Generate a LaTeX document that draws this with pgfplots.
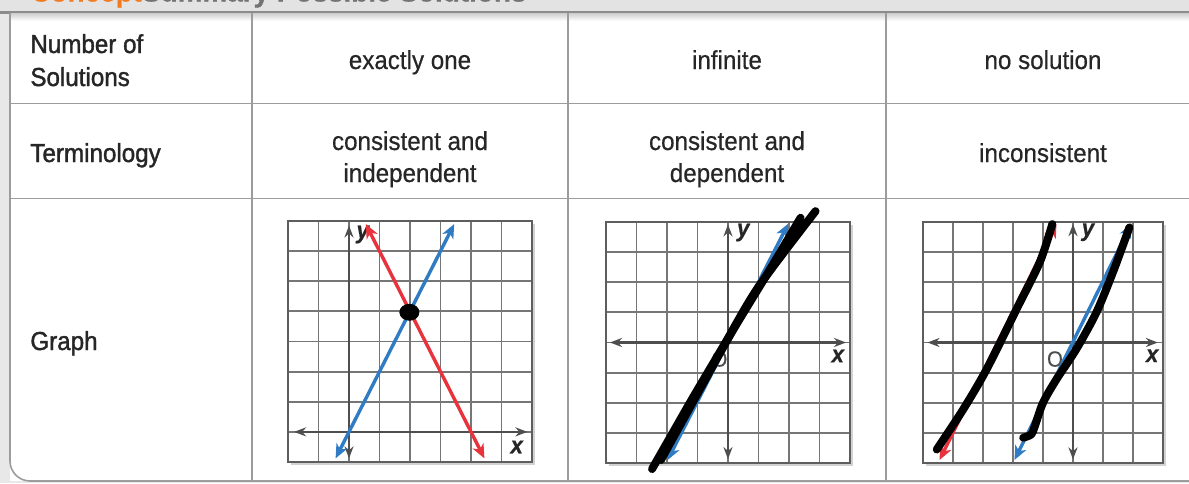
\documentclass[border=0pt]{standalone}
\usepackage{pgfplots}
\pgfplotsset{compat=1.18}
\usepackage{fontspec}
\setmainfont{Liberation Sans}[FakeStretch=0.93, FakeBold=0.5]
\newfontfamily\hdfont{Liberation Sans}[FakeStretch=0.93, FakeBold=1.4]
\usetikzlibrary{arrows.meta,shadows}

\definecolor{txt}{HTML}{262626}
\definecolor{rule}{HTML}{9C9C9C}
\definecolor{gridc}{HTML}{767676}
\definecolor{axc}{HTML}{4E4E4E}
\definecolor{lred}{HTML}{E8323C}
\definecolor{lblue}{HTML}{2F7BC4}
\definecolor{orng}{HTML}{F27A1F}

\newcommand\tf{\fontsize{13}{16}\selectfont}

\pgfplotsset{
  cgrid/.style={scale only axis, width=122pt, height=120.5pt, anchor=north west,
    xtick distance=1, ytick distance=1, grid=major,
    major grid style={draw=gridc, line width=0.95pt},
    axis line style={draw=gridc!80!black, line width=1pt},
    xticklabels={}, yticklabels={}, major tick length=0pt, clip=false,
    axis background/.style={fill=white, drop shadow={shadow xshift=1.6pt,
      shadow yshift=-1.6pt, opacity=0.35}}},
  axln/.style={draw=axc, line width=1.1pt,
    arrows={Stealth[length=6pt,width=4.5pt]-Stealth[length=6pt,width=4.5pt]}},
  rl/.style={draw=lred, line width=1.7pt,
    arrows={Stealth[length=7pt,width=6pt,inset=2pt]-Stealth[length=7pt,width=6pt,inset=2pt]}},
  bl/.style={draw=lblue, line width=1.7pt,
    arrows={Stealth[length=7pt,width=6pt,inset=2pt]-Stealth[length=7pt,width=6pt,inset=2pt]}},
  hs/.style={draw=black, line width=4pt, line cap=round, line join=round, smooth, tension=0.5},
}
\tikzset{lbl/.style={font=\fontsize{12}{13}\selectfont\bfseries\itshape, text=txt, inner sep=0pt}}

\begin{document}
\begin{tikzpicture}[x=0.5pt,y=-0.5pt]
\useasboundingbox (0,0) rectangle (1189,483);
\fill[white] (0,0) rectangle (1189,483);
% page margin outside the table
\fill[black!9] (0,0) rectangle (10,483);
\fill[black!9] (0,481) rectangle (1189,483);
% header bar with the clipped title
\fill[black!11] (0,0) rectangle (1189,12.5);
\node[anchor=base west, inner sep=0pt, font=\fontsize{15}{18}\selectfont\bfseries]
  at (30,1.5) {\textcolor{orng}{Concept}\textcolor{black!55}{Summary Possible Solutions}};
\draw[black!45, line width=1.1pt] (0,12.5) -- (1189,12.5);
% table rules
\fill[white, rounded corners=10] (10,13.6) -- (10,481) -- (1189,481) -- (1189,13.6) -- cycle;
\shade[top color=black!18, bottom color=white] (10.5,13.6) rectangle (1189,21);
\draw[rule, line width=0.8pt, rounded corners=10] (10,13) -- (10,481) -- (1189,481);
\draw[rule, line width=0.8pt] (10,103.5) -- (1189,103.5);
\draw[rule, line width=0.8pt] (10,198.5) -- (1189,198.5);
\draw[rule, line width=0.8pt] (252,13) -- (252,481);
\draw[rule, line width=0.8pt] (568,13) -- (568,481);
\draw[rule, line width=0.8pt] (886,13) -- (886,481);

% row headers
\begin{scope}[every node/.style={anchor=base west, inner sep=0pt, text=txt, font=\hdfont\tf}]
\node at (30,53) {Number of};
\node at (30,86) {Solutions};
\node at (30,162) {Terminology};
\node at (30,350) {Graph};
\end{scope}
% cell texts (two-line nodes: base anchor is the last line)
\begin{scope}[every node/.style={anchor=base, inner sep=0pt, text=txt, font=\tf, align=center}]
\node at (410,69) {exactly one};
\node at (727,69) {infinite};
\node at (1043,69) {no solution};
\node at (410,182) {consistent and\\independent};
\node at (727,182) {consistent and\\dependent};
\node at (1043,162) {inconsistent};
\end{scope}

% graph 1: exactly one
\begin{axis}[cgrid, at={(144pt,-110.5pt)}, xmin=-2, xmax=6, ymin=-1, ymax=7]
\addplot[axln] coordinates {(-1.8,0) (5.85,0)};
\addplot[axln] coordinates {(0,-0.88) (0,6.85)};
\node[lbl] at (axis cs:0.45,6.55) {y};
\node[lbl] at (axis cs:5.5,-0.5) {x};
\addplot[bl] coordinates {(-0.44,-0.88) (3.45,6.9)};
\addplot[rl] coordinates {(0.55,6.9) (4.44,-0.88)};
\addplot[only marks, mark=*, mark size=4pt, black, mark options={xscale=1.2}]
  coordinates {(1.98,3.97)};
\end{axis}

% graph 2: infinite
\begin{axis}[cgrid, at={(303pt,-111pt)}, xmin=-4, xmax=4, ymin=-4, ymax=4]
\addplot[axln] coordinates {(-3.87,0) (3.87,0)};
\addplot[axln] coordinates {(0,-3.87) (0,3.92)};
\node[lbl] at (axis cs:0.5,3.65) {y};
\node[lbl] at (axis cs:3.6,-0.45) {x};
\node[inner sep=0pt, text=axc, font=\fontsize{11}{13}\selectfont] at (axis cs:-0.28,-0.55) {O};
\addplot[bl] coordinates {(-1.98,-3.9) (1.98,3.95)};
\addplot[hs] coordinates {(-2.49,-4.2) (-1.22,-1.95) (-0.11,-0.05) (1.0,1.85) (2.87,4.36)};
\addplot[hs] coordinates {(-2.2,-3.9) (-1.0,-1.7) (0.1,0.3) (1.3,2.3) (2.38,4.14)};
\end{axis}

% graph 3: no solution
\begin{axis}[cgrid, width=120pt, at={(461.5pt,-111pt)}, xmin=-5, xmax=3, ymin=-4, ymax=4]
\addplot[axln] coordinates {(-4.85,0) (2.83,0)};
\addplot[axln] coordinates {(0,-3.88) (0,3.93)};
\node[lbl] at (axis cs:0.5,3.66) {y};
\node[lbl] at (axis cs:2.64,-0.44) {x};
\node[inner sep=0pt, text=axc, font=\fontsize{11}{13}\selectfont] at (axis cs:-0.6,-0.55) {O};
\addplot[rl] coordinates {(-4.45,-3.9) (-0.55,3.95)};
\addplot[bl] coordinates {(-1.95,-3.9) (1.95,3.95)};
\addplot[hs] coordinates {(-4.54,-3.55) (-3.66,-2.22) (-2.88,-0.89) (-1.88,1.11) (-1.11,2.66) (-0.69,3.93)};
\addplot[hs] coordinates {(-1.66,-3.16) (-1.39,-3.05) (-1.27,-2.77) (-1.0,-2.0) (-0.55,-1.22)
  (0.11,-0.22) (0.78,1.0) (1.33,2.33) (1.88,3.82)};
\end{axis}
\end{tikzpicture}
\end{document}
